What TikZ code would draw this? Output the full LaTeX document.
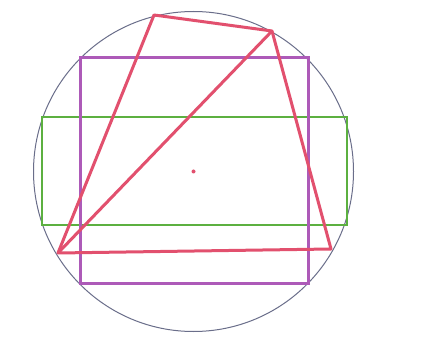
\documentclass[tikz,border=0pt]{standalone}
\definecolor{cpurple}{HTML}{AD5AB8}
\definecolor{cred}{HTML}{E2506E}
\definecolor{cgreen}{HTML}{5CB040}
\definecolor{ccircle}{HTML}{6A6E8A}
\begin{document}
\begin{tikzpicture}[x=1pt,y=-1pt,
  circ/.style={draw=ccircle,line width=1pt},
  sq/.style={draw=cpurple,line width=3pt},
  rect/.style={draw=cgreen,line width=2.2pt},
  quad/.style={draw=cred,line width=3pt,line join=round}]
\useasboundingbox[fill=white] (0,0) rectangle (426,339);
\coordinate (O) at (193.5,171.5);
\draw[circ] (O) circle[radius=160];
\draw[rect] (42,117) rectangle (347,225);
\draw[sq] (80,58) rectangle (308,284);
\coordinate (A) at (154,15);
\coordinate (B) at (272,31);
\coordinate (C) at (331,249);
\coordinate (D) at (58,253);
\draw[quad] (A) -- (B) -- (C) -- (D) -- cycle;
\draw[quad] (D) -- (B);
\fill[cred] (O) circle[radius=2];
\end{tikzpicture}
\end{document}
